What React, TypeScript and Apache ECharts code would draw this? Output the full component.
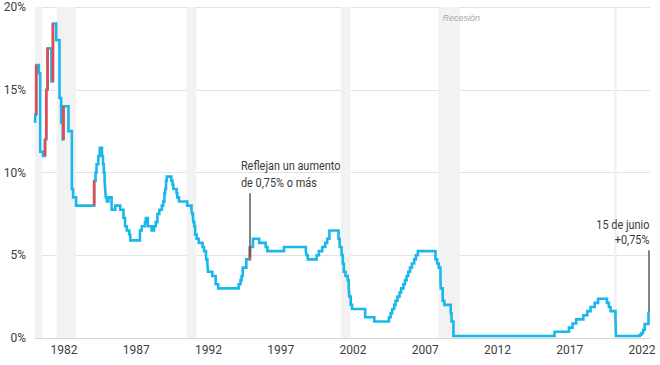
import React, { useEffect, useRef } from "react";
import * as echarts from "echarts";

// Tasa objetivo (cambios): fecha del cambio y nuevo valor (%)
const rateDates: string[] = [
  "1980-01-01", "1980-01-10", "1980-02-01", "1980-04-05", "1980-05-10", "1980-07-20",
  "1980-09-10", "1980-10-12", "1980-11-15", "1981-02-20", "1981-03-28", "1981-06-20",
  "1981-09-12", "1981-10-22", "1981-12-01", "1981-12-20", "1982-04-25", "1982-07-20",
  "1982-08-20", "1982-11-05",
  "1984-02-05", "1984-03-10", "1984-04-05", "1984-05-20", "1984-06-25", "1984-08-20",
  "1984-09-15", "1984-10-05", "1984-10-25", "1984-11-10", "1984-11-25", "1984-12-20",
  "1985-02-01", "1985-04-20", "1985-07-20", "1985-11-25", "1986-02-15", "1986-03-25",
  "1986-05-10", "1986-07-11", "1986-08-05",
  "1987-04-05", "1987-05-20", "1987-08-10", "1987-09-04", "1987-10-22", "1988-01-28",
  "1988-03-30", "1988-05-09", "1988-06-22", "1988-08-09", "1988-10-10", "1988-11-17",
  "1988-12-15", "1989-01-05", "1989-01-25", "1989-02-14", "1989-06-06", "1989-07-07",
  "1989-07-27", "1989-10-18", "1989-11-06", "1989-12-20", "1990-07-13", "1990-10-29",
  "1990-11-14", "1990-12-07", "1990-12-19", "1991-01-09", "1991-02-01", "1991-03-08",
  "1991-04-30", "1991-08-06", "1991-09-13", "1991-10-31", "1991-11-06", "1991-12-06",
  "1991-12-20", "1992-04-09", "1992-07-02", "1992-09-04",
  "1994-02-04", "1994-03-22", "1994-04-18", "1994-05-17", "1994-08-16", "1994-11-15",
  "1995-02-01", "1995-07-06", "1995-12-19", "1996-01-31", "1997-03-25", "1998-09-29",
  "1998-10-15", "1998-11-17", "1999-06-30", "1999-08-24", "1999-11-16", "2000-02-02",
  "2000-03-21", "2000-05-16",
  "2001-01-03", "2001-01-31", "2001-03-20", "2001-04-18", "2001-05-15", "2001-06-27",
  "2001-08-21", "2001-09-17", "2001-10-02", "2001-11-06", "2001-12-11", "2002-11-06",
  "2003-06-25",
  "2004-06-30", "2004-08-10", "2004-09-21", "2004-11-10", "2004-12-14", "2005-02-02",
  "2005-03-22", "2005-05-03", "2005-06-30", "2005-08-09", "2005-09-20", "2005-11-01",
  "2005-12-13", "2006-01-31", "2006-03-28", "2006-05-10", "2006-06-29",
  "2007-09-18", "2007-10-31", "2007-12-11", "2008-01-22", "2008-01-30", "2008-03-18",
  "2008-04-30", "2008-10-08", "2008-10-29", "2008-12-16",
  "2015-12-16", "2016-12-14", "2017-03-15", "2017-06-14", "2017-12-13", "2018-03-21",
  "2018-06-13", "2018-09-26", "2018-12-19", "2019-07-31", "2019-09-18", "2019-10-30",
  "2020-03-03", "2020-03-15",
  "2021-11-10", "2021-12-20", "2022-02-01", "2022-03-10", "2022-06-15",
];
const rateValues: number[] = [
  13.0, 13.5, 16.5, 16.0, 11.25, 11.0,
  12.0, 15.0, 17.5, 15.5, 19.0, 18.0,
  14.5, 13.0, 12.0, 14.0, 12.5, 9.0,
  8.5, 8.0,
  9.5, 10.0, 10.5, 11.0, 11.5, 11.0,
  10.5, 10.0, 9.5, 9.0, 8.5, 8.25,
  8.5, 7.75, 8.0, 7.75, 7.25, 6.75,
  6.5, 6.25, 5.9,
  6.5, 6.75, 7.0, 7.25, 6.75, 6.5,
  6.75, 7.0, 7.5, 7.75, 8.0, 8.25,
  8.75, 9.0, 9.5, 9.75, 9.5, 9.25,
  9.0, 8.75, 8.5, 8.25, 8.0, 7.75,
  7.5, 7.25, 7.0, 6.75, 6.25, 6.0,
  5.75, 5.5, 5.25, 5.0, 4.75, 4.5,
  4.0, 3.75, 3.25, 3.0,
  3.25, 3.5, 3.75, 4.25, 4.75, 5.5,
  6.0, 5.75, 5.5, 5.25, 5.5, 5.25,
  5.0, 4.75, 5.0, 5.25, 5.5, 5.75,
  6.0, 6.5,
  6.0, 5.5, 5.0, 4.5, 4.0, 3.75,
  3.5, 3.0, 2.5, 2.0, 1.75, 1.25,
  1.0,
  1.25, 1.5, 1.75, 2.0, 2.25, 2.5,
  2.75, 3.0, 3.25, 3.5, 3.75, 4.0,
  4.25, 4.5, 4.75, 5.0, 5.25,
  4.75, 4.5, 4.25, 3.5, 3.0, 2.25,
  2.0, 1.5, 1.0, 0.125,
  0.375, 0.625, 0.875, 1.125, 1.375, 1.625,
  1.875, 2.125, 2.375, 2.125, 1.875, 1.625,
  1.125, 0.125,
  0.2, 0.3, 0.5, 0.85, 1.58,
];

const recessionStarts: string[] = ["1980-01-01", "1981-07-01", "1990-07-01", "2001-03-01", "2007-12-01", "2020-02-01"];
const recessionEnds: string[] = ["1980-07-01", "1982-11-01", "1991-03-01", "2001-11-01", "2009-06-01", "2020-04-01"];
const recessionLabel = "Recesión";
const recessionLabelIndex = 4;

const yearTicks: number[] = [1982, 1987, 1992, 1997, 2002, 2007, 2012, 2017, 2022];
const axisStart = 1980;
const axisEnd = 2022.56;

const bigHikeThreshold = 0.75;

const note1Lines = ["Reflejan un aumento", "de 0,75% o más"];
const note1Date = "1994-11-15";
const note1Range = [4.9, 8.75];
const note2Lines = ["15 de junio", "+0,75%"];
const note2Date = "2022-06-15";
const note2Range = [1.55, 5.3];

const BLUE = "#19b8ec";
const RED = "#f2454a";
const FONT = "Roboto, 'Noto Sans', sans-serif";

function toYear(d: string): number {
  const [y, m, day] = d.split("-").map(Number);
  return y + (m - 1) / 12 + (day - 1) / 365;
}

export default function App() {
  const ref = useRef<HTMLDivElement>(null);
  useEffect(() => {
    if (!ref.current) return;
    const chart = echarts.init(ref.current, undefined, { renderer: "svg" });
    const main = rateDates.map((d, i) => [toYear(d), rateValues[i]]);

    const redSeries: any[] = [];
    for (let i = 1; i < rateValues.length; i++) {
      if (rateValues[i] - rateValues[i - 1] >= bigHikeThreshold - 1e-9) {
        const x = toYear(rateDates[i]);
        redSeries.push({
          type: "line",
          data: [[x, rateValues[i - 1]], [x, rateValues[i]]],
          showSymbol: false,
          silent: true,
          z: 4,
          lineStyle: { color: RED, width: 2.6 },
        });
      }
    }

    const option: any = {
      animation: false,
      grid: { left: 35, right: 10, top: 7, bottom: 27, containLabel: false, outerBoundsMode: "none" },
      xAxis: {
        type: "value",
        min: axisStart,
        max: axisEnd,
        splitLine: { show: false },
        axisTick: { show: false },
        axisLine: { show: true, lineStyle: { color: "#d6d6d6", width: 1 } },
        axisLabel: {
          customValues: yearTicks,
          formatter: (v: number) => String(Math.round(v)),
          color: "#3d3d3d",
          fontSize: 12,
          fontFamily: FONT,
          margin: 6,
        },
      },
      yAxis: {
        type: "value",
        min: 0,
        max: 20,
        interval: 5,
        axisLine: { show: false },
        axisTick: { show: false },
        splitLine: { lineStyle: { color: "#e2e2e2", width: 1 } },
        axisLabel: {
          formatter: "{value}%",
          color: "#3d3d3d",
          fontSize: 12,
          fontFamily: FONT,
          margin: 9,
        },
      },
      series: [
        {
          type: "line",
          data: [],
          z: 1,
          silent: true,
          markArea: {
            silent: true,
            itemStyle: { color: "#f2f2f2" },
            label: { show: false },
            data: recessionStarts.map((s, i) => [
              { xAxis: toYear(s) },
              { xAxis: toYear(recessionEnds[i]) },
            ]),
          },
        },
        {
          type: "line",
          step: "end",
          data: main,
          showSymbol: false,
          silent: true,
          z: 3,
          lineStyle: { color: BLUE, width: 2.6, join: "miter" },
          markLine: {
            silent: true,
            symbol: ["none", "none"],
            label: { show: false },
            lineStyle: { color: "#5a5a5a", width: 1.5, type: "solid" },
            data: [
              [{ coord: [toYear(note1Date), note1Range[0]] }, { coord: [toYear(note1Date), note1Range[1]] }],
              [{ coord: [toYear(note2Date), note2Range[0]] }, { coord: [toYear(note2Date), note2Range[1]] }],
            ],
          },
        },
        ...redSeries,
      ],
    };
    chart.setOption(option);

    const p1 = chart.convertToPixel({ gridIndex: 0 }, [toYear(note1Date), note1Range[1]]) as number[];
    const p2 = chart.convertToPixel({ gridIndex: 0 }, [toYear(note2Date), note2Range[1]]) as number[];
    const pr = chart.convertToPixel({ gridIndex: 0 }, [toYear(recessionStarts[recessionLabelIndex]), 20]) as number[];
    chart.setOption({
      graphic: [
        {
          type: "text",
          z: 100,
          x: p1[0] - 9,
          y: p1[1] - 2,
          scaleX: 0.84,
          style: {
            text: note1Lines.join("\n"),
            fill: "#3a3a3a",
            font: `13px ${FONT}`,
            lineHeight: 17,
            textAlign: "left",
            textVerticalAlign: "bottom",
          },
        },
        {
          type: "text",
          z: 100,
          x: p2[0] + 1,
          y: p2[1] - 3,
          scaleX: 0.84,
          style: {
            text: note2Lines.join("\n"),
            fill: "#3a3a3a",
            font: `13px ${FONT}`,
            lineHeight: 15,
            textAlign: "right",
            textVerticalAlign: "bottom",
          },
        },
        {
          type: "text",
          z: 100,
          x: pr[0] + 4,
          y: pr[1] + 6,
          style: {
            text: recessionLabel,
            fill: "#a8a8a8",
            font: `italic 9px 'Liberation Sans', Arial, sans-serif`,
            textAlign: "left",
            textVerticalAlign: "top",
          },
        },
      ],
    });

    return () => chart.dispose();
  }, []);
  return <div ref={ref} style={{ width: 660, height: 365, position: "absolute", left: 0, top: 0 }} />;
}
